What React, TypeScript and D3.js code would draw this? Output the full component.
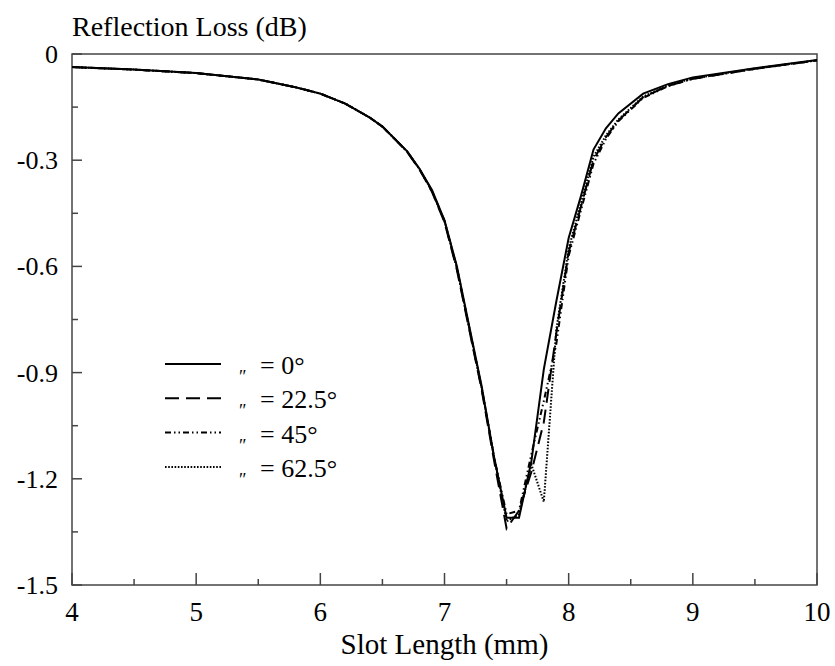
import React from "react";
import * as d3 from "d3";

// slot length (mm) sample points shared by all curves
const slotLength = [4, 4.5, 5, 5.5, 5.8, 6, 6.2, 6.4, 6.5, 6.6, 6.7, 6.8, 6.9, 7, 7.1, 7.2, 7.3, 7.4, 7.5, 7.6, 7.7, 7.8, 7.9, 8, 8.1, 8.2, 8.3, 8.4, 8.6, 8.8, 9, 9.5, 10];

// reflection loss (dB) for each incidence angle
const loss0 = [-0.037, -0.044, -0.054, -0.072, -0.094, -0.112, -0.14, -0.18, -0.205, -0.24, -0.275, -0.325, -0.385, -0.47, -0.6, -0.77, -0.94, -1.14, -1.31, -1.31, -1.15, -0.89, -0.7, -0.52, -0.4, -0.27, -0.21, -0.168, -0.112, -0.085, -0.066, -0.04, -0.017];
const loss22 = [-0.037, -0.044, -0.054, -0.072, -0.094, -0.112, -0.14, -0.18, -0.205, -0.24, -0.277, -0.327, -0.39, -0.475, -0.61, -0.78, -0.95, -1.15, -1.34, -1.29, -1.18, -1.04, -0.79, -0.56, -0.43, -0.3, -0.235, -0.188, -0.122, -0.09, -0.07, -0.042, -0.018];
const loss45 = [-0.037, -0.044, -0.054, -0.072, -0.094, -0.112, -0.14, -0.18, -0.205, -0.24, -0.276, -0.326, -0.388, -0.472, -0.605, -0.775, -0.945, -1.14, -1.3, -1.29, -1.13, -0.98, -0.82, -0.57, -0.44, -0.31, -0.24, -0.19, -0.124, -0.091, -0.07, -0.042, -0.018];
const loss62 = [-0.037, -0.044, -0.054, -0.072, -0.094, -0.112, -0.14, -0.18, -0.205, -0.24, -0.276, -0.326, -0.388, -0.472, -0.605, -0.775, -0.945, -1.14, -1.32, -1.3, -1.16, -1.265, -0.78, -0.55, -0.42, -0.29, -0.23, -0.185, -0.12, -0.089, -0.069, -0.041, -0.018];

const angleLabels = ["= 0°", "= 22.5°", "= 45°", "= 62.5°"];
const dashes = ["none", "14 7", "6 3 1.5 3 1.5 3", "1.6 1.6"];

const xMajor = [4, 5, 6, 7, 8, 9, 10];
const xMinor = [4.5, 5.5, 6.5, 7.5, 8.5, 9.5];
const yMajor = [0, -0.3, -0.6, -0.9, -1.2, -1.5];
const yMinor = [-0.15, -0.45, -0.75, -1.05, -1.35];

const W = 835, H = 666;
const margin = { left: 72, right: 18, top: 54, bottom: 81 };
const axisColor = "#444";
const FONT = "Liberation Serif";

export default function App() {
  const x = d3.scaleLinear().domain([4, 10]).range([margin.left, W - margin.right]);
  const y = d3.scaleLinear().domain([-1.5, 0]).range([H - margin.bottom, margin.top]);
  const series = [loss0, loss22, loss45, loss62];
  const ln = d3.line<number>()
    .x((_, i) => x(slotLength[i]))
    .y(d => y(d));
  const bottom = y(-1.5);
  const left = x(4);
  const txt = (size: number) => ({ fontFamily: `"${FONT}"`, fontSize: size });

  return (
    <svg width={W} height={H} style={{ position: "absolute", left: 0, top: 0, background: "#fff" }}>
      {/* frame */}
      <rect x={left} y={y(0)} width={x(10) - left} height={bottom - y(0)}
        fill="none" stroke={axisColor} strokeWidth={1.5} />

      {/* x ticks */}
      {xMajor.map(v => (
        <g key={"xM" + v}>
          <line x1={x(v)} x2={x(v)} y1={bottom} y2={bottom - 12} stroke={axisColor} strokeWidth={1.5} />
          <text x={x(v)} y={621} textAnchor="middle" style={txt(27)}>{d3.format("d")(v)}</text>
        </g>
      ))}
      {xMinor.map(v => (
        <line key={"xm" + v} x1={x(v)} x2={x(v)} y1={bottom} y2={bottom - 6} stroke={axisColor} strokeWidth={1.5} />
      ))}

      {/* y ticks */}
      {yMajor.map(v => (
        <g key={"yM" + v}>
          <line x1={left} x2={left + 10} y1={y(v)} y2={y(v)} stroke={axisColor} strokeWidth={1.5} />
          <text x={left - 14} y={y(v) + 9} textAnchor="end" style={txt(26)}>{String(v)}</text>
        </g>
      ))}
      {yMinor.map(v => (
        <line key={"ym" + v} x1={left} x2={left + 6} y1={y(v)} y2={y(v)} stroke={axisColor} strokeWidth={1.5} />
      ))}

      {/* axis titles */}
      <text x={left} y={36} style={txt(28)}>Reflection Loss (dB)</text>
      <text x={(left + x(10)) / 2} y={654} textAnchor="middle" style={txt(29)}>Slot Length (mm)</text>

      {/* curves */}
      {series.map((s, i) => (
        <path key={"s" + i} d={ln(s) || ""} fill="none" stroke="#000" strokeWidth={2}
          strokeDasharray={dashes[i]} />
      ))}

      {/* legend */}
      {angleLabels.map((lab, i) => (
        <g key={lab} transform={`translate(165,${364 + i * 34.3})`}>
          <line x1={0} x2={56} stroke="#000" strokeWidth={2} strokeDasharray={dashes[i]} />
          <text x={74} y={19} style={txt(18)}>″</text>
          <text x={95} y={10} style={txt(26)}>{lab}</text>
        </g>
      ))}
    </svg>
  );
}
